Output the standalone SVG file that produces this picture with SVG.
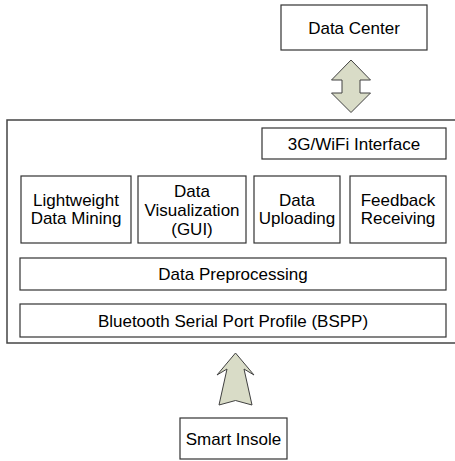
<svg xmlns="http://www.w3.org/2000/svg" width="455" height="461" viewBox="0 0 455 461">
<style>
.box{fill:#ffffff;stroke:#333333;stroke-width:1.2}
.cont{fill:#ffffff;stroke:#444444;stroke-width:1.5}
.arr{fill:#d9dcc7;stroke:#404040;stroke-width:1}
text{font-family:"Liberation Sans",Arial,sans-serif;font-size:17px;fill:#000000;text-anchor:middle}
</style>
<rect width="455" height="461" fill="#ffffff"/>
<g id="container">
<rect class="cont" x="7" y="120" width="460" height="223"/>
</g>
<g id="data-center">
<rect class="box" x="281" y="5" width="146" height="45"/>
<text x="354" y="33.5">Data Center</text>
</g>
<g id="wifi-interface">
<rect class="box" x="262" y="128" width="184" height="31"/>
<text x="354" y="149.5">3G/WiFi Interface</text>
</g>
<g id="lightweight-data-mining">
<rect class="box" x="21" y="176" width="110" height="67"/>
<text x="76" y="205.5">Lightweight</text>
<text x="76" y="224">Data Mining</text>
</g>
<g id="data-visualization">
<rect class="box" x="138" y="176" width="108" height="67"/>
<text x="192" y="196.5">Data</text>
<text x="192" y="215.5">Visualization</text>
<text x="192" y="234.5">(GUI)</text>
</g>
<g id="data-uploading">
<rect class="box" x="254" y="176" width="86" height="67"/>
<text x="297" y="205.5">Data</text>
<text x="297" y="224">Uploading</text>
</g>
<g id="feedback-receiving">
<rect class="box" x="350" y="176" width="96" height="67"/>
<text x="398" y="205.5">Feedback</text>
<text x="398" y="224">Receiving</text>
</g>
<g id="data-preprocessing">
<rect class="box" x="20" y="258" width="426" height="32"/>
<text x="233" y="280">Data Preprocessing</text>
</g>
<g id="bspp">
<rect class="box" x="20" y="304" width="426" height="33"/>
<text x="233" y="326.5">Bluetooth Serial Port Profile (BSPP)</text>
</g>
<g id="smart-insole">
<rect class="box" x="180" y="418" width="107" height="41"/>
<text x="233.5" y="444.5">Smart Insole</text>
</g>
<g id="connectors">
<polygon class="arr" points="351,60 370.5,80 360,80 360,93 370.5,93 351,112.5 331.5,93 342,93 342,80 331.5,80"/>
<polygon class="arr" points="235.5,353 254,375 244,369 252,405 235.5,400.5 219,405 227,369 217,375"/>
</g>
</svg>
